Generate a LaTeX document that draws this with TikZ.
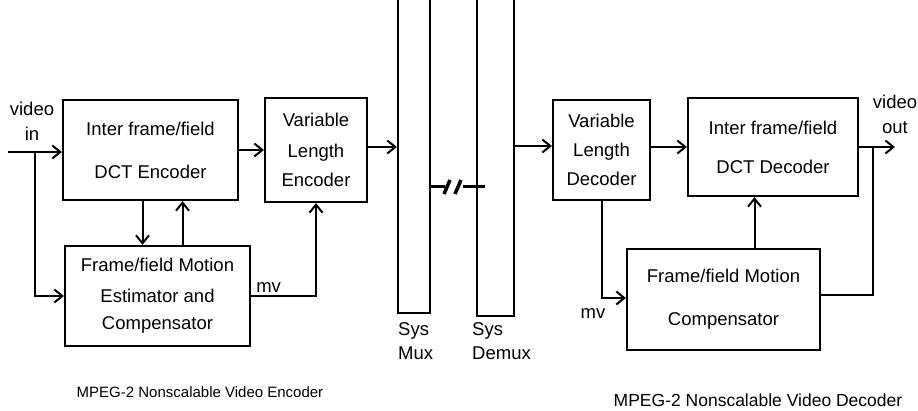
\documentclass[tikz,border=0pt]{standalone}
\usepackage{fontspec}
\setmainfont{Liberation Sans}
\usetikzlibrary{arrows.meta,calc}
\newcommand\boxfont{\fontsize{18.5}{29}\selectfont}
\newcommand\capfont{\fontsize{15}{18}\selectfont}
\tikzset{
  blk/.style={draw, line width=2.2pt, inner sep=0pt, align=center, font=\boxfont},
  wire/.style={line width=2pt},
  flow/.style={wire, -{Straight Barb[length=8pt,width=13pt,line width=2pt]}},
  lbl/.style={inner sep=0pt, font=\boxfont}
}
\begin{document}
\begin{tikzpicture}[x=1pt, y=-1pt]
  \useasboundingbox (0,0) rectangle (918,411);
  \clip (0,0) rectangle (918,411);

  % encoder side
  \node[blk, minimum width=175pt, minimum height=100pt] (enc) at (150.5,150)
    {Inter frame/field\\[14pt]DCT Encoder};
  \node[blk, minimum width=102pt, minimum height=104pt] (vle) at (316,150)
    {Variable\\[2pt]Length\\Encoder};
  \node[blk, minimum width=185pt, minimum height=100pt] (me) at (157.5,296)
    {Frame/field Motion\\[2pt]Estimator and\\[-2pt]Compensator};

  % system layer
  \node[draw, line width=2.2pt, minimum width=32pt, minimum height=318pt] (mux) at (414,154) {};
  \node[draw, line width=2.2pt, minimum width=37pt, minimum height=321pt] (demux) at (495.5,155.5) {};
  \node[lbl, anchor=north west, align=left, font=\fontsize{18.5}{24}\selectfont] (muxlbl) at (398,322) {Sys\\Mux};
  \node[lbl, anchor=north west, align=left, font=\fontsize{18.5}{24}\selectfont] (demuxlbl) at (472,322) {Sys\\Demux};

  % decoder side
  \node[blk, minimum width=97pt, minimum height=100pt] (vld) at (601.5,150)
    {Variable\\Length\\Decoder};
  \node[blk, minimum width=170pt, minimum height=98pt] (dec) at (773,147)
    {Inter frame/field\\[10pt]DCT Decoder};
  \node[blk, minimum width=193pt, minimum height=101pt] (mc) at (723.5,299.5)
    {Frame/field Motion\\[14pt]Compensator};

  % in / out
  \coordinate (vin) at (8,152);
  \coordinate (tap) at (35,152);
  \coordinate (vout) at (895,147);
  \coordinate (otap) at (873,147);
  \node[lbl, align=center] (inlbl) at (32,121) {video\\[-4pt]in};
  \node[lbl, align=center] (outlbl) at (895,114) {video\\[-4pt]out};

  \draw[flow] (vin) -- (vin -| enc.west);
  \draw[flow] (tap) |- (me.west);
  \draw[flow] ([xshift=-8pt]enc.south) -- ([xshift=-8pt]enc.south |- me.north);
  \draw[flow] ([xshift=25pt]me.north) -- ([xshift=25pt]me.north |- enc.south);
  \draw[flow] (enc.east) -- (vle.west);
  \draw[flow] (me.east) -| (vle.south);
  \node[lbl, anchor=south west] (mvenc) at ([xshift=5pt,yshift=3pt]me.east) {mv};
  \draw[flow] ([yshift=3pt]vle.east) -- ([yshift=3pt]vle.east -| mux.west);

  % channel break
  \draw[line width=3pt] (mux.east |- 0,187) -- (445,187);
  \draw[line width=3pt] (463,187) -- (485,187);
  \draw[line width=3.5pt] (444,194) -- (450,180);
  \draw[line width=3.5pt] (455,194) -- (461,180);

  \draw[flow] ([yshift=4pt]vld.west -| demux.east) -- ([yshift=4pt]vld.west);
  \draw[flow] (dec.west -| vld.east) -- (dec.west);
  \draw[flow] (dec.east) -- (vout);
  \draw[wire] (otap) |- ([yshift=4pt]mc.east);
  \draw[flow] ([xshift=31pt]mc.north) -- ([xshift=31pt]mc.north |- dec.south);
  \draw[flow] (vld.south) |- ([yshift=1.5pt]mc.west);
  \node[lbl] (mvdec) at (593,314) {mv};

  % captions
  \node[lbl, font=\capfont] (enccap) at (200,392) {MPEG-2 Nonscalable Video Encoder};
  \node[lbl, font=\fontsize{17.5}{20}\selectfont] (deccap) at (758,400) {MPEG-2 Nonscalable Video Decoder};
\end{tikzpicture}
\end{document}
